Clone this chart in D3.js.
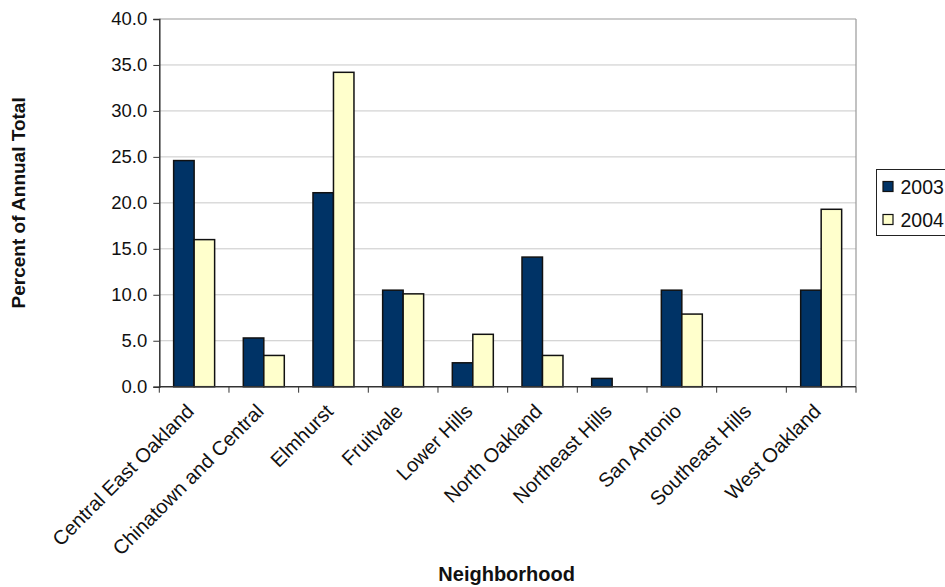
<!DOCTYPE html>
<html><head><meta charset="utf-8">
<script src="https://cdn.jsdelivr.net/npm/d3@7"></script>
<style>
html,body{margin:0;padding:0;background:#fff;}
svg{display:block;font-family:"Liberation Sans",Arial,Helvetica,sans-serif;}
</style></head>
<body>
<script>
const categories = ["Central East Oakland","Chinatown and Central","Elmhurst","Fruitvale","Lower Hills","North Oakland","Northeast Hills","San Antonio","Southeast Hills","West Oakland"];
const seriesNames = ["2003","2004"];
const values2003 = [24.6, 5.3, 21.1, 10.5, 2.6, 14.1, 0.9, 10.5, 0, 10.5];
const values2004 = [16.0, 3.4, 34.2, 10.1, 5.7, 3.4, 0, 7.9, 0, 19.3];
const yTicks = [0,5,10,15,20,25,30,35,40];
const colors = ["#003366","#FFFFCC"];

const W = 945, H = 587;
const pLeft = 159.3, pRight = 856, pTop = 19, pBottom = 386.7;

const svg = d3.select("body").append("svg").attr("width", W).attr("height", H);

const y = d3.scaleLinear().domain([0,40]).range([pBottom, pTop]);
const x0 = d3.scaleBand().domain(categories).range([pLeft, pRight]).padding(0);
const x1 = d3.scaleBand().domain(seriesNames).range([0, x0.bandwidth()]).paddingInner(0).paddingOuter(0.7);

// gridlines
svg.append("g").selectAll("line").data(yTicks.filter(d => d > 0)).join("line")
  .attr("x1", pLeft).attr("x2", pRight)
  .attr("y1", d => y(d)).attr("y2", d => y(d))
  .attr("stroke", d => d === 40 ? "#999" : "#c8c8c8").attr("stroke-width", 1);

// right border
svg.append("line").attr("x1", pRight).attr("x2", pRight).attr("y1", pTop).attr("y2", pBottom)
  .attr("stroke", "#999").attr("stroke-width", 1.2);

// bars
const data = categories.map((c, i) => ({c, vals: [values2003[i], values2004[i]]}));
const g = svg.append("g").selectAll("g").data(data).join("g")
  .attr("transform", d => `translate(${x0(d.c)},0)`);
g.selectAll("rect").data(d => d.vals.map((v, j) => ({s: seriesNames[j], v, j})).filter(d => d.v > 0)).join("rect")
  .attr("x", d => x1(d.s))
  .attr("width", x1.bandwidth())
  .attr("y", d => y(d.v))
  .attr("height", d => pBottom - y(d.v))
  .attr("fill", d => colors[d.j])
  .attr("stroke", "#111").attr("stroke-width", 1.5);

// y axis
const yAxis = d3.axisLeft(y).tickValues(yTicks).tickFormat(d3.format(".1f")).tickSize(6).tickPadding(6);
const ya = svg.append("g").attr("transform", `translate(${pLeft},0)`).call(yAxis);
ya.select(".domain").attr("stroke", "#333").attr("stroke-width", 1.5);
ya.selectAll(".tick line").attr("stroke", "#333");
ya.selectAll("text").attr("font-size", 18.5).attr("fill", "#111").attr("font-family", "Liberation Sans, Arial, sans-serif");

// x axis line & ticks at category boundaries
const xa = svg.append("g");
xa.append("line").attr("x1", pLeft).attr("x2", pRight).attr("y1", pBottom).attr("y2", pBottom)
  .attr("stroke", "#333").attr("stroke-width", 1.5);
const bounds = categories.map(c => x0(c)).concat([pRight]);
xa.selectAll("line.t").data(bounds).join("line").attr("class","t")
  .attr("x1", d => d).attr("x2", d => d).attr("y1", pBottom).attr("y2", pBottom + 6)
  .attr("stroke", "#333");

// x labels
svg.append("g").selectAll("text").data(categories).join("text")
  .attr("transform", d => `translate(${x0(d) + x0.bandwidth()/2 + 1},${pBottom + 26}) rotate(-45)`)
  .attr("text-anchor", "end")
  .attr("font-size", 20).attr("fill", "#111")
  .text(d => d);

// axis titles
svg.append("text").attr("transform", `translate(25,${(pTop+pBottom)/2}) rotate(-90)`)
  .attr("text-anchor", "middle").attr("font-weight", "bold").attr("font-size", 19).attr("fill", "#111")
  .text("Percent of Annual Total");
svg.append("text").attr("x", (pLeft+pRight)/2 - 1).attr("y", 581)
  .attr("text-anchor", "middle").attr("font-weight", "bold").attr("font-size", 20).attr("fill", "#111")
  .text("Neighborhood");

// legend
const lg = svg.append("g").attr("transform", "translate(876.5,169.5)");
lg.append("rect").attr("width", 90).attr("height", 66).attr("fill", "#fff").attr("stroke", "#222").attr("stroke-width", 1);
seriesNames.forEach((s, i) => {
  const yy = 17 + i * 33;
  lg.append("rect").attr("x", 6.5).attr("y", yy - 5).attr("width", 10).attr("height", 10)
    .attr("fill", colors[i]).attr("stroke", "#111").attr("stroke-width", 1.2);
  lg.append("text").attr("x", 24).attr("y", yy).attr("dy", "0.36em")
    .attr("font-size", 19.5).attr("fill", "#111").text(s);
});
</script>
</body></html>
